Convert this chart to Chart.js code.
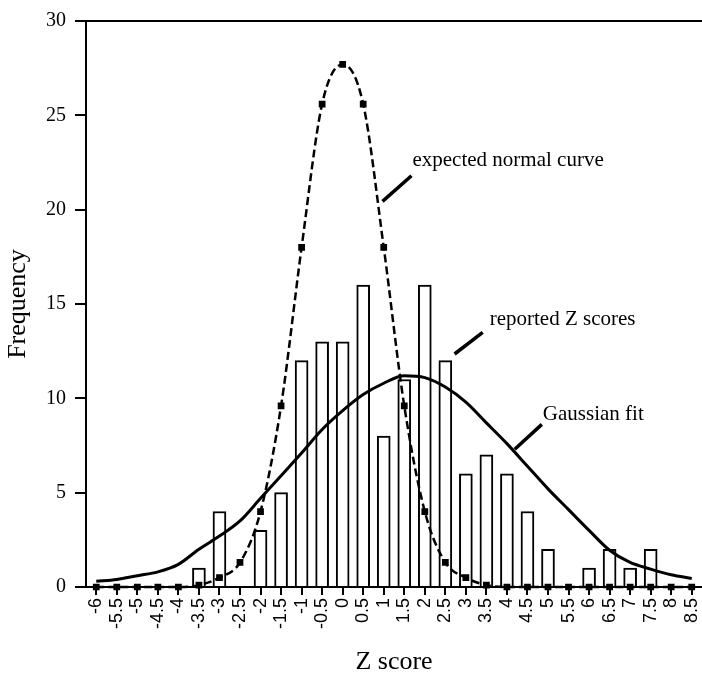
<!DOCTYPE html>
<html>
<head>
<meta charset="utf-8">
<script src="https://cdn.jsdelivr.net/npm/chart.js@4/dist/chart.umd.min.js"></script>
<style>
  html, body { margin: 0; padding: 0; background: #fff; }
  #wrap { width: 702px; height: 681px; position: relative; }
</style>
</head>
<body>
<div id="wrap"><canvas id="c" width="702" height="681"></canvas></div>
<script>
// ---- data ----
const zLabels = ['-6','-5.5','-5','-4.5','-4','-3.5','-3','-2.5','-2','-1.5','-1','-0.5','0','0.5','1','1.5','2','2.5','3','3.5','4','4.5','5','5.5','6','6.5','7','7.5','8','8.5'];
const reportedZ = [0,0,0,0,0,1,4,0,3,5,12,13,13,16,8,11,16,12,6,7,6,4,2,0,1,2,1,2,0,0];
const expectedNormal = [0,0,0,0,0,0.1,0.5,1.3,4.0,9.6,18.0,25.6,27.7,25.6,18.0,9.6,4.0,1.3,0.5,0.1,0,0,0,0,0,0,0,0,0,0];
const gaussianFit = [0.3,0.4,0.6,0.8,1.2,2.0,2.7,3.5,4.7,5.9,7.1,8.35,9.35,10.2,10.8,11.2,11.1,10.6,9.8,8.7,7.6,6.4,5.2,4.1,3.0,1.95,1.3,0.95,0.65,0.45];
const yTicks = [0,5,10,15,20,25,30];

// annotation labels: text anchor and leader line in data units (category index, frequency)
const notes = [
  { text: 'expected normal curve', at: [15.4, 22.3], line: [[15.35, 21.8], [13.94, 20.44]] },
  { text: 'reported Z scores',     at: [19.16, 13.9], line: [[18.82, 13.5], [17.45, 12.35]] },
  { text: 'Gaussian fit',          at: [21.75, 8.83], line: [[21.7, 8.62], [20.38, 7.30]] }
];

const serif = "'Liberation Serif', 'Times New Roman', serif";
const sans = "'Liberation Sans', Arial, sans-serif";

const notePlugin = {
  id: 'notes',
  afterDatasetsDraw(chart) {
    const ctx = chart.ctx;
    const xs = chart.scales.x, ys = chart.scales.y;
    const px = v => xs.getPixelForValue(0) + v * (xs.getPixelForValue(1) - xs.getPixelForValue(0));
    ctx.save();
    ctx.fillStyle = '#000';
    ctx.strokeStyle = '#000';
    ctx.font = "21px " + serif;
    ctx.textBaseline = 'alphabetic';
    ctx.textAlign = 'left';
    notes.forEach(n => {
      ctx.fillText(n.text, px(n.at[0]), ys.getPixelForValue(n.at[1]));
      ctx.lineWidth = 3.5;
      ctx.beginPath();
      ctx.moveTo(px(n.line[0][0]), ys.getPixelForValue(n.line[0][1]));
      ctx.lineTo(px(n.line[1][0]), ys.getPixelForValue(n.line[1][1]));
      ctx.stroke();
    });
    ctx.restore();
  }
};

new Chart(document.getElementById('c'), {
  type: 'bar',
  data: {
    labels: zLabels,
    datasets: [
      {
        type: 'line',
        label: 'Gaussian fit',
        data: gaussianFit,
        borderColor: '#000',
        borderWidth: 3,
        pointRadius: 0,
        cubicInterpolationMode: 'monotone',
        fill: false,
        clip: false,
        order: 1
      },
      {
        type: 'line',
        label: 'expected normal curve',
        data: expectedNormal,
        borderColor: '#000',
        borderWidth: 2.5,
        borderDash: [8, 4],
        pointRadius: 3,
        pointStyle: 'rect',
        pointBackgroundColor: '#000',
        pointBorderColor: '#000',
        cubicInterpolationMode: 'monotone',
        fill: false,
        clip: false,
        order: 2
      },
      {
        label: 'reported Z scores',
        data: reportedZ,
        backgroundColor: '#fff',
        borderColor: '#000',
        borderWidth: 2,
        barThickness: 13,
        order: 3
      }
    ]
  },
  options: {
    responsive: false,
    animation: false,
    events: [],
    layout: { autoPadding: false, padding: { top: 16, right: 0, left: 0, bottom: 0 } },
    plugins: { legend: { display: false }, tooltip: { enabled: false }, title: { display: false } },
    scales: {
      x: {
        offset: true,
        grid: { offset: false, drawOnChartArea: false, drawTicks: true, tickLength: 8, tickColor: '#000', lineWidth: 2 },
        border: { display: true, color: '#000', width: 2 },
        ticks: { color: '#000', font: { family: sans, size: 18 }, maxRotation: 90, minRotation: 90, autoSkip: false, padding: 3 },
        title: { display: true, text: 'Z score', color: '#000', font: { family: serif, size: 26 }, padding: { top: 0, bottom: 3 } },
        afterFit(s) { s.height = 94; s.paddingRight = 0; s.paddingLeft = 0; }
      },
      y: {
        min: 0, max: 30,
        afterBuildTicks(s) { s.ticks = yTicks.map(v => ({ value: v })); },
        grid: {
          drawOnChartArea: true,
          color: c => (c.tick && c.tick.value === 30) ? '#000' : 'rgba(0,0,0,0)',
          tickColor: '#000', tickLength: 11, lineWidth: 2
        },
        border: { display: true, color: '#000', width: 2 },
        ticks: { color: '#000', font: { family: serif, size: 20 }, padding: 9 },
        title: { display: true, text: 'Frequency', color: '#000', font: { family: serif, size: 26 }, padding: { top: 3, bottom: 0 } },
        afterFit(s) { s.width = 86; }
      }
    }
  },
  plugins: [notePlugin]
});
</script>
</body>
</html>
